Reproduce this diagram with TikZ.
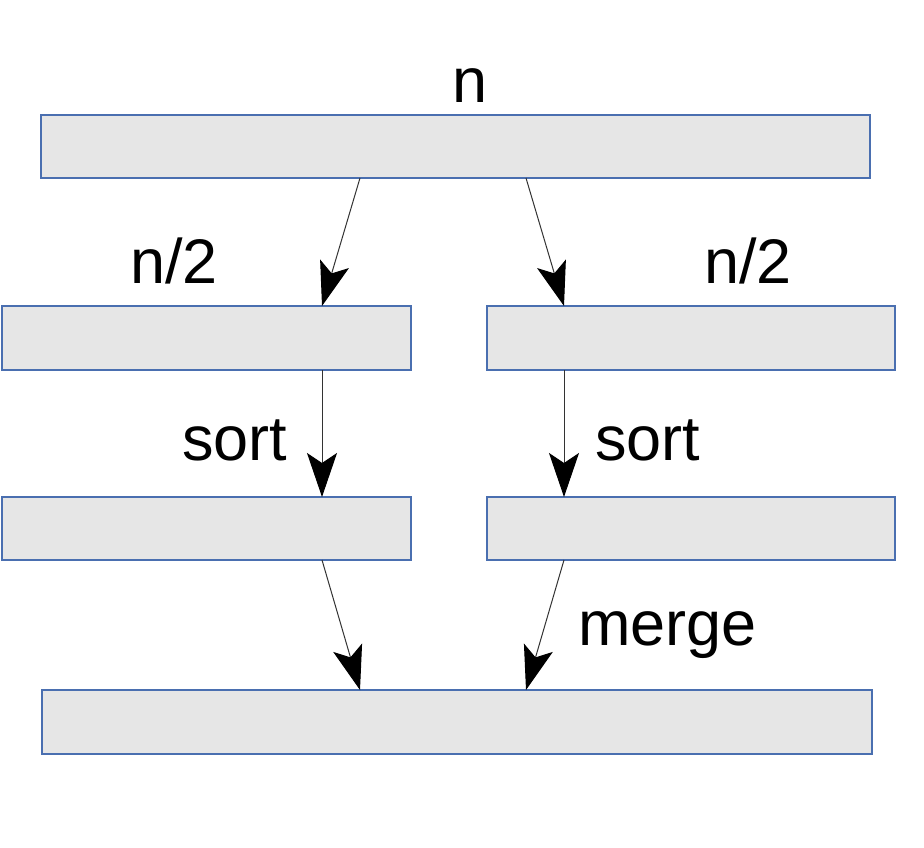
\documentclass[tikz,border=0pt]{standalone}
\usepackage{fontspec}
\setmainfont{Liberation Sans}
\usetikzlibrary{arrows.meta}
\definecolor{boxfill}{HTML}{E6E6E6}
\definecolor{boxline}{HTML}{4A6FB0}
\definecolor{arrline}{HTML}{333333}
\tikzset{
  bar/.style={draw=boxline, line width=1.1pt, fill=boxfill},
  arr/.style={draw=arrline, line width=1pt, -{Stealth[length=44pt,width=30pt,inset=10pt,black]}},
  lbl/.style={inner sep=0pt, font=\fontsize{63}{70}\selectfont}
}
\begin{document}
\begin{tikzpicture}[x=1pt,y=-1pt]
\useasboundingbox (0,0) rectangle (924,848);
\fill[white] (0,0) rectangle (924,848);
% boxes
\draw[bar] (41,115) rectangle (870,178);
\draw[bar] (2,306) rectangle (411,370);
\draw[bar] (487,306) rectangle (895,370);
\draw[bar] (2,497) rectangle (411,560);
\draw[bar] (487,497) rectangle (895,560);
\draw[bar] (42,690) rectangle (872,754);
% connector endpoints
\coordinate (t1) at (360,178); \coordinate (m1) at (322,306);
\coordinate (t2) at (526,178); \coordinate (m2) at (564,306);
\coordinate (m1b) at (322,370); \coordinate (l1) at (322,497);
\coordinate (m2b) at (564,370); \coordinate (l2) at (564,497);
\coordinate (l1b) at (322,560); \coordinate (b1) at (360,690);
\coordinate (l2b) at (564,560); \coordinate (b2) at (526,690);
\draw[arr] (t1) -- (m1);
\draw[arr] (t2) -- (m2);
\draw[arr] (m1b) -- (l1);
\draw[arr] (m2b) -- (l2);
\draw[arr] (l1b) -- (b1);
\draw[arr] (l2b) -- (b2);
% labels
\node[lbl, anchor=base] (ln) at (470,103) {n};
\node[lbl, anchor=base west] (ln1) at (130,283) {n/2};
\node[lbl, anchor=base west] (ln2) at (704,283) {n/2};
\node[lbl, anchor=base west] (ls1) at (182,460) {sort};
\node[lbl, anchor=base west] (ls2) at (595,460) {sort};
\node[lbl, anchor=base west] (lm) at (578,645) {merge};
\end{tikzpicture}
\end{document}
